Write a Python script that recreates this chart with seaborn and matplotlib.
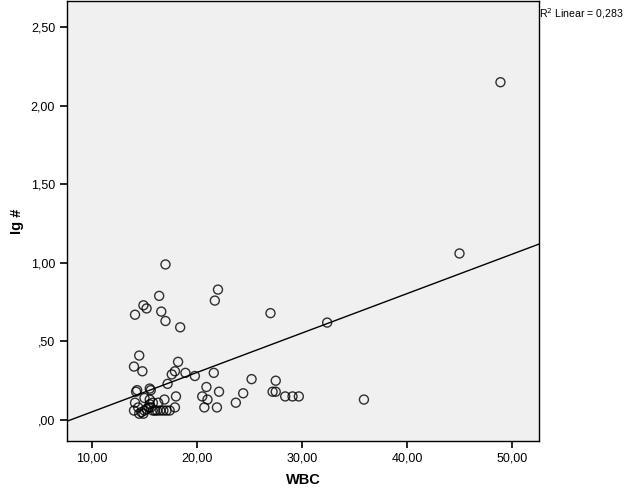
import numpy as np
import pandas as pd
import matplotlib
matplotlib.use("Agg")
import matplotlib.pyplot as plt
import seaborn as sns
from matplotlib.ticker import FuncFormatter

wbc = [48.9, 45.0, 32.4, 35.9, 17.0, 22.0, 21.7, 16.4, 14.9, 15.2,
       14.1, 16.6, 17.0, 18.4, 27.0, 14.5, 14.0, 14.8, 18.2, 17.9,
       17.6, 18.9, 19.8, 21.6, 17.2, 20.9, 22.1, 25.2, 27.5, 24.4,
       23.7, 27.2, 27.5, 28.4, 29.1, 29.7, 20.5, 21.0, 20.7, 21.9,
       14.3, 14.2, 15.5, 15.6, 18.0, 16.9, 14.1, 15.0, 15.5, 15.8,
       16.3, 14.0, 14.4, 14.5, 14.7, 14.9, 15.0, 15.2, 15.4, 15.6,
       15.8, 16.0, 16.2, 16.5, 16.8, 17.1, 17.4, 17.9, 15.5]
ig = [2.15, 1.06, 0.62, 0.13, 0.99, 0.83, 0.76, 0.79, 0.73, 0.71,
      0.67, 0.69, 0.63, 0.59, 0.68, 0.41, 0.34, 0.31, 0.37, 0.31,
      0.29, 0.30, 0.28, 0.30, 0.23, 0.21, 0.18, 0.26, 0.25, 0.17,
      0.11, 0.18, 0.18, 0.15, 0.15, 0.15, 0.15, 0.13, 0.08, 0.08,
      0.19, 0.18, 0.20, 0.19, 0.15, 0.13, 0.11, 0.14, 0.13, 0.11,
      0.11, 0.06, 0.08, 0.04, 0.05, 0.04, 0.06, 0.07, 0.08, 0.08,
      0.06, 0.06, 0.06, 0.06, 0.06, 0.06, 0.06, 0.08, 0.10]
x_ticks = [10, 20, 30, 40, 50]
y_ticks = [0.0, 0.5, 1.0, 1.5, 2.0, 2.5]
r2_label = "R$^2$ Linear = 0,283"

df = pd.DataFrame({"WBC": wbc, "Ig #": ig})

sns.set_style("ticks")
plt.rcParams['font.family'] = ['Liberation Sans', 'DejaVu Sans']
plt.rcParams['text.color'] = 'black'
plt.rcParams['axes.labelcolor'] = 'black'

fig = plt.figure(figsize=(6.26, 5.01), dpi=100)
ax = fig.add_axes([0.107, 0.12, 0.754, 0.878])
ax.set_facecolor("#F0F0F0")
ax.set_xlim(7.62, 52.57)
ax.set_ylim(-0.133, 2.667)

sns.regplot(data=df, x="WBC", y="Ig #", ax=ax, ci=None, truncate=False,
            scatter_kws=dict(s=42, facecolors="none", edgecolors="black", linewidths=1.0),
            line_kws=dict(color="black", lw=1.0))
ax.set_xlim(7.62, 52.57)
ax.set_ylim(-0.133, 2.667)

def fmt(v, pos):
    s = f"{v:.2f}".replace(".", ",")
    if s.startswith("0,"):
        s = s[1:]
    return s

ax.set_xticks(x_ticks)
ax.set_yticks(y_ticks)
ax.xaxis.set_major_formatter(FuncFormatter(fmt))
ax.yaxis.set_major_formatter(FuncFormatter(fmt))
ax.tick_params(axis="both", direction="out", length=5, width=1.2, labelsize=9,
               colors="black", labelcolor="black")
for sp in ax.spines.values():
    sp.set_visible(True)
    sp.set_color("black")
    sp.set_linewidth(1.0)

ax.set_xlabel("WBC", fontsize=10.5, fontweight="bold", labelpad=6, color="black")
ax.set_ylabel("Ig #", fontsize=10.5, fontweight="bold", labelpad=5, color="black")

fig.text(0.861, 0.972, r2_label, fontsize=7.6, ha="left", va="center", color="black")

fig.savefig("out.png", dpi=100, facecolor="white")
